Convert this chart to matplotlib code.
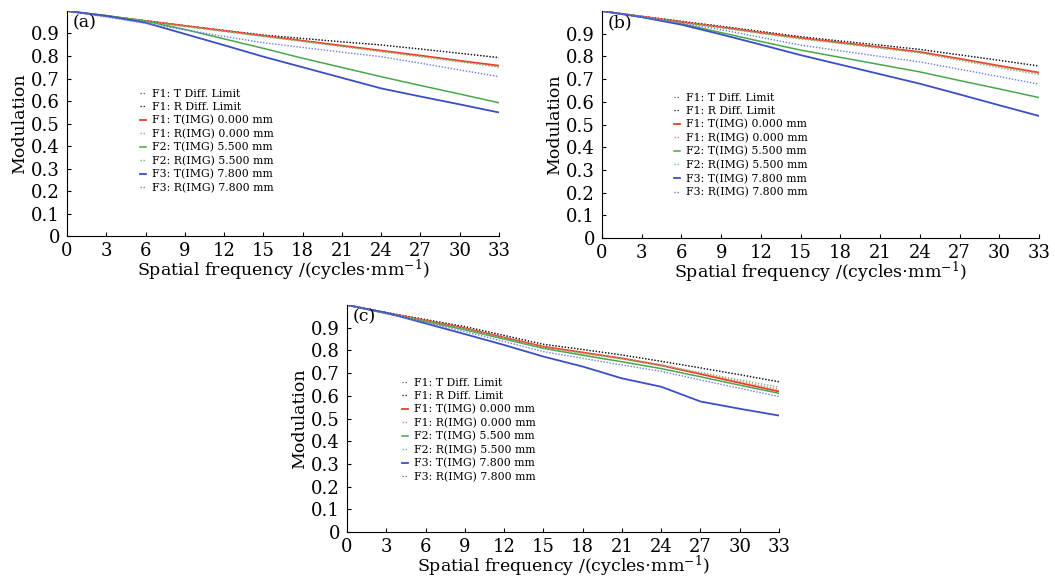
import matplotlib
matplotlib.use("Agg")
import matplotlib.pyplot as plt
import numpy as np

plt.rcParams["font.family"] = ["DejaVu Serif"]
plt.rcParams["mathtext.fontset"] = "dejavuserif"

freq = [0, 3, 6, 9, 12, 15, 18, 21, 24, 27, 30, 33]

labels = [
    "F1: T Diff. Limit",
    "F1: R Diff. Limit",
    "F1: T(IMG) 0.000 mm",
    "F1: R(IMG) 0.000 mm",
    "F2: T(IMG) 5.500 mm",
    "F2: R(IMG) 5.500 mm",
    "F3: T(IMG) 7.800 mm",
    "F3: R(IMG) 7.800 mm",
]

# panel (a)
a_diff_t = [1.0, 0.978, 0.957, 0.935, 0.914, 0.893, 0.878, 0.863, 0.849, 0.831, 0.812, 0.794]
a_diff_r = [1.0, 0.978, 0.957, 0.935, 0.914, 0.893, 0.878, 0.863, 0.849, 0.831, 0.812, 0.792]
a_f1_t = [1.0, 0.978, 0.956, 0.934, 0.912, 0.890, 0.868, 0.846, 0.824, 0.802, 0.779, 0.757]
a_f1_r = [1.0, 0.978, 0.955, 0.933, 0.911, 0.888, 0.866, 0.843, 0.821, 0.798, 0.775, 0.752]
a_f2_t = [1.0, 0.980, 0.955, 0.918, 0.876, 0.834, 0.790, 0.749, 0.708, 0.669, 0.631, 0.592]
a_f2_r = [1.0, 0.977, 0.954, 0.931, 0.909, 0.887, 0.864, 0.842, 0.819, 0.797, 0.774, 0.751]
a_f3_t = [1.0, 0.978, 0.948, 0.898, 0.848, 0.797, 0.750, 0.703, 0.656, 0.620, 0.585, 0.549]
a_f3_r = [1.0, 0.973, 0.945, 0.917, 0.887, 0.859, 0.838, 0.817, 0.797, 0.768, 0.738, 0.708]

# panel (b)
b_diff_t = [1.0, 0.977, 0.955, 0.933, 0.910, 0.887, 0.868, 0.850, 0.831, 0.807, 0.783, 0.759]
b_diff_r = [1.0, 0.977, 0.955, 0.933, 0.910, 0.887, 0.868, 0.850, 0.831, 0.807, 0.783, 0.757]
b_f1_t = [1.0, 0.976, 0.952, 0.929, 0.905, 0.882, 0.861, 0.841, 0.820, 0.790, 0.759, 0.729]
b_f1_r = [1.0, 0.976, 0.952, 0.928, 0.904, 0.880, 0.859, 0.838, 0.817, 0.787, 0.756, 0.726]
b_f2_t = [1.0, 0.974, 0.944, 0.905, 0.866, 0.828, 0.796, 0.764, 0.732, 0.694, 0.657, 0.619]
b_f2_r = [1.0, 0.975, 0.950, 0.926, 0.901, 0.877, 0.857, 0.836, 0.815, 0.783, 0.751, 0.720]
b_f3_t = [1.0, 0.973, 0.940, 0.897, 0.852, 0.806, 0.764, 0.722, 0.680, 0.633, 0.585, 0.538]
b_f3_r = [1.0, 0.973, 0.946, 0.918, 0.884, 0.850, 0.825, 0.800, 0.776, 0.744, 0.711, 0.678]

# panel (c)
c_diff_t = [1.0, 0.967, 0.936, 0.905, 0.866, 0.827, 0.804, 0.780, 0.752, 0.723, 0.693, 0.663]
c_diff_r = [1.0, 0.967, 0.936, 0.905, 0.866, 0.827, 0.804, 0.780, 0.752, 0.723, 0.693, 0.661]
c_f1_t = [1.0, 0.965, 0.932, 0.898, 0.857, 0.817, 0.791, 0.765, 0.734, 0.696, 0.657, 0.619]
c_f1_r = [1.0, 0.965, 0.931, 0.897, 0.856, 0.815, 0.790, 0.766, 0.737, 0.701, 0.664, 0.628]
c_f2_t = [1.0, 0.963, 0.927, 0.891, 0.850, 0.809, 0.779, 0.750, 0.720, 0.684, 0.647, 0.611]
c_f2_r = [1.0, 0.965, 0.930, 0.895, 0.852, 0.810, 0.786, 0.762, 0.733, 0.702, 0.670, 0.638]
c_f3_t = [1.0, 0.966, 0.919, 0.872, 0.824, 0.773, 0.729, 0.677, 0.640, 0.575, 0.543, 0.513]
c_f3_r = [1.0, 0.962, 0.923, 0.883, 0.839, 0.795, 0.765, 0.736, 0.708, 0.670, 0.633, 0.597]

panels = [
    ("(a)", [a_diff_t, a_diff_r, a_f1_t, a_f1_r, a_f2_t, a_f2_r, a_f3_t, a_f3_r]),
    ("(b)", [b_diff_t, b_diff_r, b_f1_t, b_f1_r, b_f2_t, b_f2_r, b_f3_t, b_f3_r]),
    ("(c)", [c_diff_t, c_diff_r, c_f1_t, c_f1_r, c_f2_t, c_f2_r, c_f3_t, c_f3_r]),
]

styles = [
    dict(color="#555555", ls=(0, (1, 1.5)), lw=0.9),
    dict(color="#111111", ls=(0, (1, 1.5)), lw=0.9),
    dict(color="#ee3a2a", ls="-", lw=1.3),
    dict(color="#f07a6a", ls=(0, (1, 1.2)), lw=1.0),
    dict(color="#4aa64a", ls="-", lw=1.1),
    dict(color="#6cbf6c", ls=(0, (1, 1.2)), lw=1.0),
    dict(color="#3a4ec8", ls="-", lw=1.3),
    dict(color="#6a7ae0", ls=(0, (1, 1.2)), lw=1.0),
]

rects = [
    [0.0635, 0.5945, 0.4095, 0.3866],
    [0.5706, 0.5910, 0.4142, 0.3900],
    [0.3289, 0.0859, 0.4095, 0.3900],
]
legend_anchor = [(0.170, 0.655), (0.165, 0.64), (0.128, 0.68)]

fig = plt.figure(figsize=(10.55, 5.82), dpi=100)

for (tag, series), rect, anchor in zip(panels, rects, legend_anchor):
    ax = fig.add_axes(rect)
    for vals, lab, st in zip(series, labels, styles):
        ax.plot(freq, vals, label=lab, **st)
    ax.set_xlim(0, 33)
    ax.set_ylim(0, 1.0)
    ax.set_xticks(freq)
    ax.set_yticks(np.arange(0, 1.0, 0.1))
    ax.set_yticklabels(["0"] + [f"{v:.1f}" for v in np.arange(0.1, 1.0, 0.1)])
    ax.tick_params(direction="in", length=3, labelsize=13, width=0.8)
    ax.tick_params(axis="y", pad=5)
    ax.tick_params(axis="x", pad=4)
    for s in ["top", "right"]:
        ax.spines[s].set_visible(False)
    ax.set_xlabel(r"Spatial frequency /(cycles$\cdot$mm$^{-1}$)", fontsize=12.5, labelpad=-1)
    ax.set_ylabel("Modulation", fontsize=12.5, labelpad=2)
    ax.text(0.012, 0.985, tag, transform=ax.transAxes, fontsize=12.5, va="top", ha="left")
    ax.legend(loc="upper left", bbox_to_anchor=anchor, frameon=False, fontsize=7.8,
              handlelength=0.5, handletextpad=0.6, labelspacing=0.3, borderaxespad=0,
              borderpad=0)

fig.savefig("out.png", dpi=100)
